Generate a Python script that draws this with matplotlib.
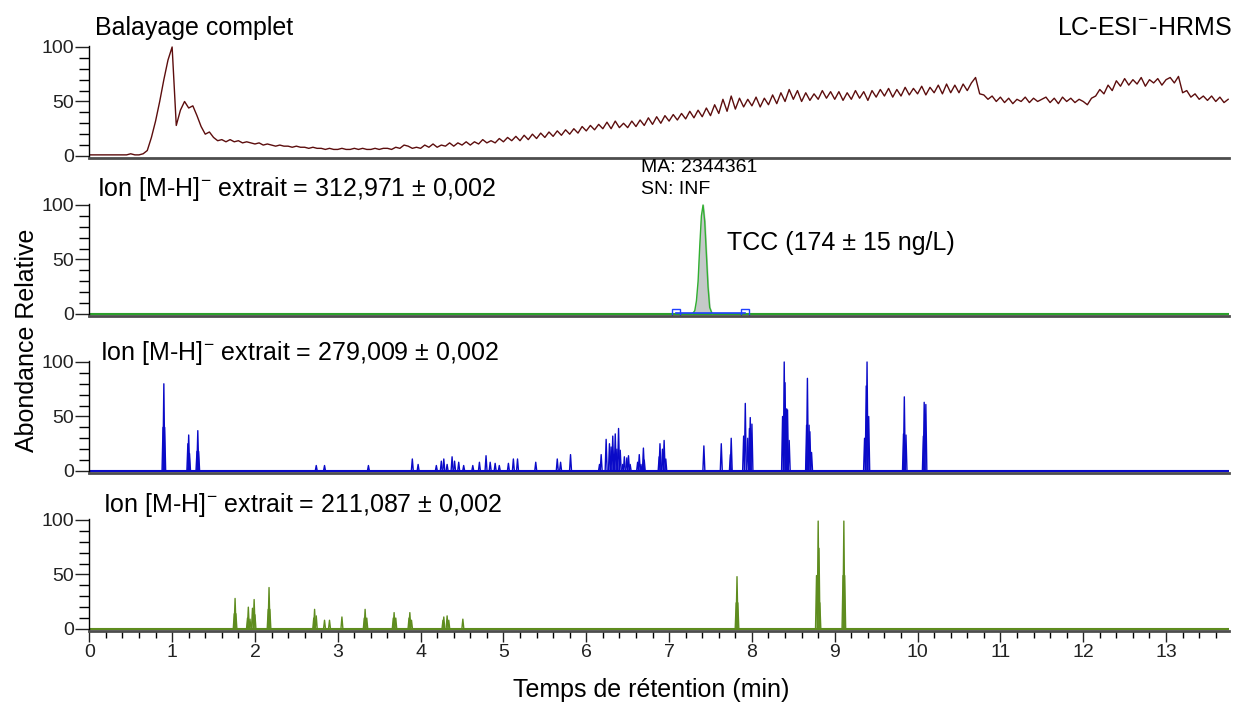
import numpy as np
import matplotlib
matplotlib.use("Agg")
import matplotlib.pyplot as plt
from matplotlib.ticker import MultipleLocator

plt.rcParams['font.family'] = ['Liberation Sans', 'DejaVu Sans']
plt.rcParams['mathtext.fontset'] = 'custom'
plt.rcParams['mathtext.rm'] = 'Liberation Sans'
plt.rcParams['mathtext.it'] = 'Liberation Sans'
plt.rcParams['mathtext.bf'] = 'Liberation Sans'

# ---- data ----
# full scan TIC, one value every 0.05 min
tic_values = [
    1, 1, 1, 1, 1, 1, 1, 1, 1, 1, 2, 1, 1, 2, 5, 17, 32, 50, 70, 88,
    100, 28, 42, 50, 44, 46, 37, 27, 20, 22, 17, 14, 15, 13, 15, 13, 14, 12, 13, 12,
    11, 12, 10, 11, 10, 9, 10, 9, 9, 8, 9, 8, 8, 7, 8, 7, 7, 6, 7, 6,
    6, 7, 6, 6, 7, 6, 7, 6, 6, 7, 6, 7, 7, 6, 8, 7, 10, 9, 7, 8,
    7, 10, 8, 11, 8, 10, 9, 12, 9, 12, 10, 13, 10, 13, 11, 15, 12, 14, 12, 16,
    13, 17, 14, 18, 14, 19, 15, 20, 16, 21, 17, 22, 18, 23, 19, 24, 20, 25, 21, 27,
    23, 28, 24, 29, 25, 31, 25, 32, 26, 30, 26, 32, 27, 33, 28, 35, 29, 36, 30, 37,
    32, 38, 33, 39, 34, 41, 35, 42, 36, 44, 37, 47, 39, 52, 41, 55, 43, 53, 45, 52,
    46, 54, 45, 53, 47, 56, 48, 58, 50, 61, 52, 60, 50, 58, 51, 57, 52, 60, 53, 59,
    52, 59, 51, 58, 52, 60, 53, 59, 51, 60, 54, 61, 55, 62, 54, 61, 55, 63, 56, 62,
    57, 64, 56, 63, 58, 65, 57, 66, 58, 65, 58, 66, 60, 67, 72, 57, 56, 52, 55, 50,
    54, 49, 53, 48, 52, 50, 54, 49, 53, 50, 52, 54, 49, 53, 48, 54, 50, 53, 49, 52,
    50, 47, 53, 55, 61, 57, 65, 60, 69, 64, 71, 65, 70, 66, 72, 64, 70, 67, 71, 65,
    70, 72, 67, 73, 58, 60, 54, 57, 52, 55, 51, 55, 50, 54, 49, 52,
]
tic_times = np.arange(len(tic_values)) * 0.05

# TCC peak (m/z 312.971)
tcc_times = [7.28, 7.31, 7.33, 7.35, 7.37, 7.39, 7.41, 7.43, 7.45, 7.47, 7.49, 7.52]
tcc_heights = [0, 3, 12, 30, 62, 90, 100, 85, 55, 25, 6, 0]
tcc_bounds = [7.08, 7.92]

# m/z 279.009 peaks (apex time, relative height)
ion279_times = [0.89, 0.90, 0.91, 1.19, 1.20, 1.21, 1.30, 1.31, 1.32,
                2.74, 2.84, 3.37, 3.90, 3.97,
                4.19, 4.25, 4.28, 4.32, 4.38, 4.41, 4.46, 4.52, 4.63, 4.71, 4.79, 4.84,
                4.90, 4.95, 5.06, 5.12, 5.17, 5.39, 5.65, 5.69, 5.81,
                6.16, 6.18, 6.24, 6.28, 6.30, 6.32, 6.35, 6.37, 6.39, 6.41, 6.44, 6.46,
                6.49, 6.51, 6.53, 6.62, 6.64, 6.66, 6.69, 6.70,
                6.88, 6.89, 6.92, 6.94, 6.96, 7.42, 7.63, 7.74, 7.75,
                7.90, 7.92, 7.95, 7.97, 7.98, 8.00,
                8.37, 8.39, 8.40, 8.42, 8.43, 8.45,
                8.66, 8.67, 8.69, 8.70, 8.72,
                9.36, 9.38, 9.39, 9.41, 9.83, 9.84, 9.86, 10.07, 10.08, 10.10]
ion279_heights = [40, 80, 40, 25, 33, 16, 18, 37, 18,
                  5, 5, 5, 11, 6,
                  5, 9, 11, 6, 13, 9, 8, 5, 5, 8, 14, 8,
                  7, 5, 7, 11, 11, 8, 11, 8, 15,
                  6, 15, 29, 25, 22, 32, 34, 20, 39, 19, 6, 13,
                  12, 14, 6, 8, 15, 6, 21, 10,
                  13, 25, 20, 28, 11, 23, 25, 15, 30,
                  32, 62, 30, 39, 49, 43,
                  50, 100, 81, 57, 56, 28,
                  42, 85, 42, 36, 17,
                  30, 78, 100, 50, 34, 68, 33, 32, 63, 61]

# m/z 211.087 peaks
ion211_times = [1.75, 1.76, 1.77, 1.91, 1.92, 1.94, 1.97, 1.99, 2.00, 2.16, 2.17, 2.18,
                2.71, 2.72, 2.74, 2.84, 2.90, 3.05, 3.32, 3.33, 3.35, 3.67, 3.68, 3.70,
                3.86, 3.87, 3.89, 4.27, 4.28, 4.32, 4.34, 4.51,
                7.81, 7.82, 7.83, 8.78, 8.80, 8.81, 8.82, 9.10, 9.11, 9.12]
ion211_heights = [14, 28, 14, 10, 20, 9, 19, 27, 13, 18, 38, 18,
                  10, 18, 12, 8, 8, 11, 10, 18, 10, 10, 15, 10,
                  10, 15, 8, 8, 11, 12, 8, 9,
                  24, 48, 24, 49, 99, 74, 24, 49, 99, 49]

x_max = 13.76
W, H = 1234, 706


def fx(px):
    return px / W


def fy(py):
    return 1 - py / H


fig = plt.figure(figsize=(W / 100, H / 100), dpi=100)

ax_left = fx(89.3)
ax_width = fx(1229) - ax_left
ax_height = 111.7 / H
bottoms = [fy(157.6), fy(315.6), fy(472.6), fy(630.6)]
axes = [fig.add_axes([ax_left, b, ax_width, ax_height]) for b in bottoms]

for i, ax in enumerate(axes):
    ax.set_xlim(0, x_max)
    ax.set_ylim(-1.5, 101)
    ax.spines['top'].set_visible(False)
    ax.spines['right'].set_visible(False)
    ax.spines['left'].set_color('black')
    ax.spines['left'].set_linewidth(1.0)
    ax.spines['bottom'].set_color('#4d4d4d')
    ax.spines['bottom'].set_linewidth(2.0)
    ax.yaxis.set_major_locator(MultipleLocator(50))
    ax.yaxis.set_minor_locator(MultipleLocator(10))
    ax.tick_params(axis='y', which='major', length=10, width=1, labelsize=14,
                   pad=1, colors='#222222')
    ax.tick_params(axis='y', which='minor', length=7, width=1)
    if i < 3:
        ax.tick_params(axis='x', which='both', bottom=False, labelbottom=False)
    else:
        ax.xaxis.set_major_locator(MultipleLocator(1))
        ax.xaxis.set_minor_locator(MultipleLocator(0.2))
        ax.tick_params(axis='x', which='major', length=8, width=1, labelsize=14,
                       colors='#222222', pad=2)
        ax.tick_params(axis='x', which='minor', length=5, width=1)

# full scan
axes[0].plot(tic_times, tic_values, color='#5c0d0d', lw=1.0)

# TCC extracted ion
ax = axes[1]
ax.plot([0, x_max], [0, 0], color='#2ca02c', lw=1.5)
ax.fill_between(tcc_times, tcc_heights, color='#c4c9c9')
ax.plot(tcc_times, tcc_heights, color='#30b030', lw=1.0)
ax.plot(tcc_bounds, [0.5, 0.5], color='#2040ff', lw=1.2, marker='s',
        markersize=6, markerfacecolor='none', markeredgecolor='#2040ff')


def draw_spikes(ax, times, heights, color, hw=0.012):
    ax.plot([0, x_max], [0, 0], color=color, lw=1.5)
    for t, h in zip(times, heights):
        ax.plot([t - hw, t, t + hw], [0, h, 0], color=color, lw=1.0)


draw_spikes(axes[2], ion279_times, ion279_heights, '#0a0ac8')
draw_spikes(axes[3], ion211_times, ion211_heights, '#5e8c1e')

# texts
fs_title = 18
ion = 'Ion [M-H]$^{-}$ extrait = '
fig.text(fx(95), fy(28), 'Balayage complet', fontsize=fs_title, va='center', ha='left')
fig.text(fx(1232), fy(28), 'LC-ESI$^{-}$-HRMS', fontsize=fs_title, va='center', ha='right')
fig.text(fx(97), fy(189), ion + '312,971 \u00b1 0,002',
         fontsize=fs_title, va='center', ha='left')
fig.text(fx(100), fy(353), ion + '279,009 \u00b1 0,002',
         fontsize=fs_title, va='center', ha='left')
fig.text(fx(103), fy(505), ion + '211,087 \u00b1 0,002',
         fontsize=fs_title, va='center', ha='left')
fig.text(fx(641), fy(168), 'MA: 2344361', fontsize=14, va='center', ha='left')
fig.text(fx(641), fy(190), 'SN: INF', fontsize=14, va='center', ha='left')
fig.text(fx(727), fy(243), 'TCC (174 \u00b1 15 ng/L)', fontsize=fs_title,
         va='center', ha='left')
fig.text(fx(27), fy(340), 'Abondance Relative', fontsize=fs_title, rotation=90,
         va='center', ha='center')
fig.text(fx(651), fy(690), 'Temps de r\u00e9tention (min)', fontsize=fs_title,
         va='center', ha='center')

fig.savefig('out.png', dpi=100)
